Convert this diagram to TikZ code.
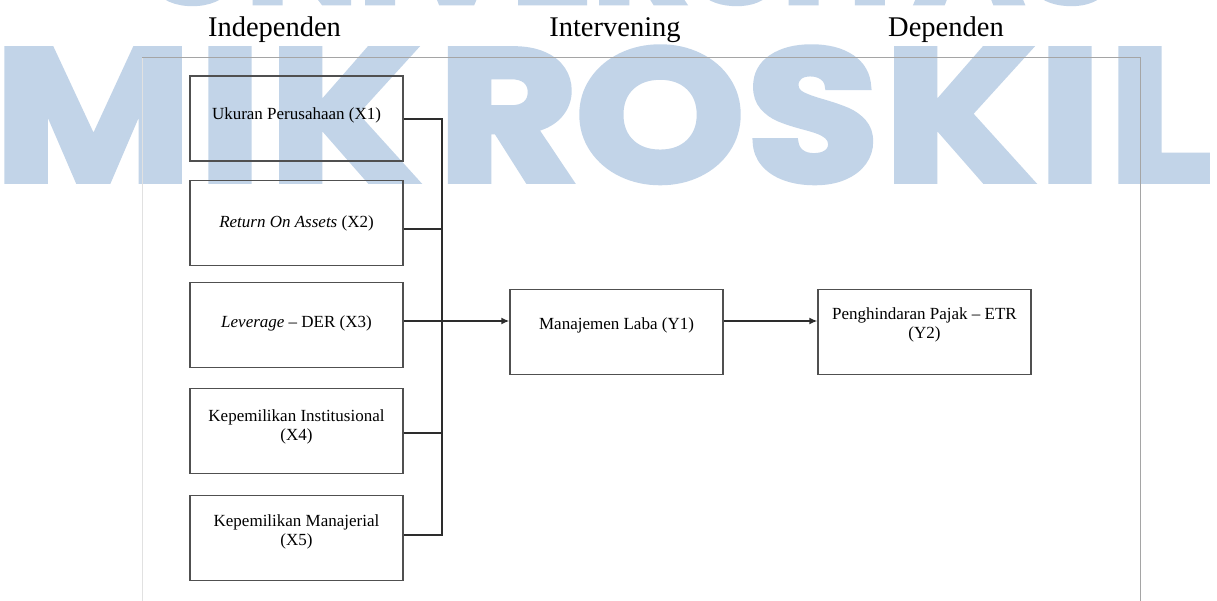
\documentclass[tikz,border=0pt]{standalone}
\usepackage{fontspec}
\setmainfont{Liberation Serif}
\newfontfamily\wmfont{Poppins}[FakeBold=3.5, FakeStretch=1.15]
\usetikzlibrary{arrows.meta}
\definecolor{wmblue}{RGB}{194,212,232}
\definecolor{boxgray}{RGB}{80,80,80}
\definecolor{linedark}{RGB}{45,45,45}
\definecolor{framegray}{RGB}{165,165,165}
\definecolor{framelight}{RGB}{225,225,225}
\begin{document}
\begin{tikzpicture}[x=1pt,y=-1pt,
  box/.style={draw=boxgray, line width=1.3pt, minimum width=213pt, minimum height=85pt, inner sep=0pt},
  lbl/.style={font=\fontsize{17}{19}\selectfont, align=center, inner sep=0pt},
  ttl/.style={font=\fontsize{28.5}{30}\selectfont, anchor=base, inner sep=0pt},
  wire/.style={draw=linedark, line width=1.5pt},
  arr/.style={draw=linedark, line width=2pt, -{Latex[length=8pt,width=7pt]}},
  wm/.style={text=wmblue, font=\wmfont\bfseries\fontsize{187}{187}\selectfont, anchor=base, inner sep=0pt},
  wmtop/.style={text=wmblue, font=\wmfont\bfseries\fontsize{130}{130}\selectfont, anchor=base west, inner sep=0pt}
]
\useasboundingbox (0,0) rectangle (1217,601);
\fill[white] (0,0) rectangle (1217,601);

% watermark
\node[wmtop] (wmU) at (140,3) {UNIVERSITAS};
\node[wm, anchor=base east] (wmM) at (192,180.7) {M};
\node[wm] (wmIa) at (230,180.7) {I};
\node[wm] (wmKa) at (344,180.7) {K};
\node[wm] (wmR) at (508,180.7) {R};
\node[wm] (wmO) at (660,180.7) {O};
\node[wm] (wmS) at (813,180.7) {S};
\node[wm] (wmKb) at (959,180.7) {K};
\node[wm] (wmIb) at (1070,180.7) {I};
\node[wm, anchor=base west] (wmL) at (1108,180.7) {L};

% frame
\draw[framelight, line width=1pt] (142,601) -- (142,58);
\draw[framegray, line width=1pt] (142,58) -- (1140,58) -- (1140,601);

% titles
\node[ttl] (tind) at (274.5,37) {Independen};
\node[ttl] (tint) at (615,37) {Intervening};
\node[ttl] (tdep) at (946,37) {Dependen};

% boxes
\node[box] (x1) at (296.5,118.5) {};
\node[box] (x2) at (296.5,223) {};
\node[box] (x3) at (296.5,325) {};
\node[box] (x4) at (296.5,431) {};
\node[box] (x5) at (296.5,538) {};
\node[box] (y1) at (616.5,332) {};
\node[box] (y2) at (924.5,332) {};

% labels
\node[lbl, anchor=base] (x1t) at (296.5,120) {Ukuran Perusahaan (X1)};
\node[lbl, anchor=base] (x2t) at (296.5,228) {\textit{Return On Assets} (X2)};
\node[lbl, anchor=base] (x3t) at (296.5,327) {\textit{Leverage} -- DER (X3)};
\node[lbl] (x4t) at (296.5,427) {Kepemilikan Institusional\\(X4)};
\node[lbl] (x5t) at (296.5,532) {Kepemilikan Manajerial\\(X5)};
\node[lbl, anchor=base] (y1t) at (616.5,330) {Manajemen Laba (Y1)};
\node[lbl] (y2t) at (924.5,325) {Penghindaran Pajak -- ETR\\(Y2)};

% connectors
\coordinate (b1) at (442,119);
\coordinate (b2) at (442,229);
\coordinate (b3) at (442,321);
\coordinate (b4) at (442,433);
\coordinate (b5) at (442,535);
\draw[wire] (x1.east |- b1) -- (b1) -- (b5) -- (x5.east |- b5);
\draw[wire] (x2.east |- b2) -- (b2);
\draw[wire] (x3.east |- b3) -- (b3);
\draw[wire] (x4.east |- b4) -- (b4);
\draw[arr] (b3) -- (y1.west |- b3);
\draw[arr, line width=2.5pt] (y1.east |- b3) -- (y2.west |- b3);
\end{tikzpicture}
\end{document}
